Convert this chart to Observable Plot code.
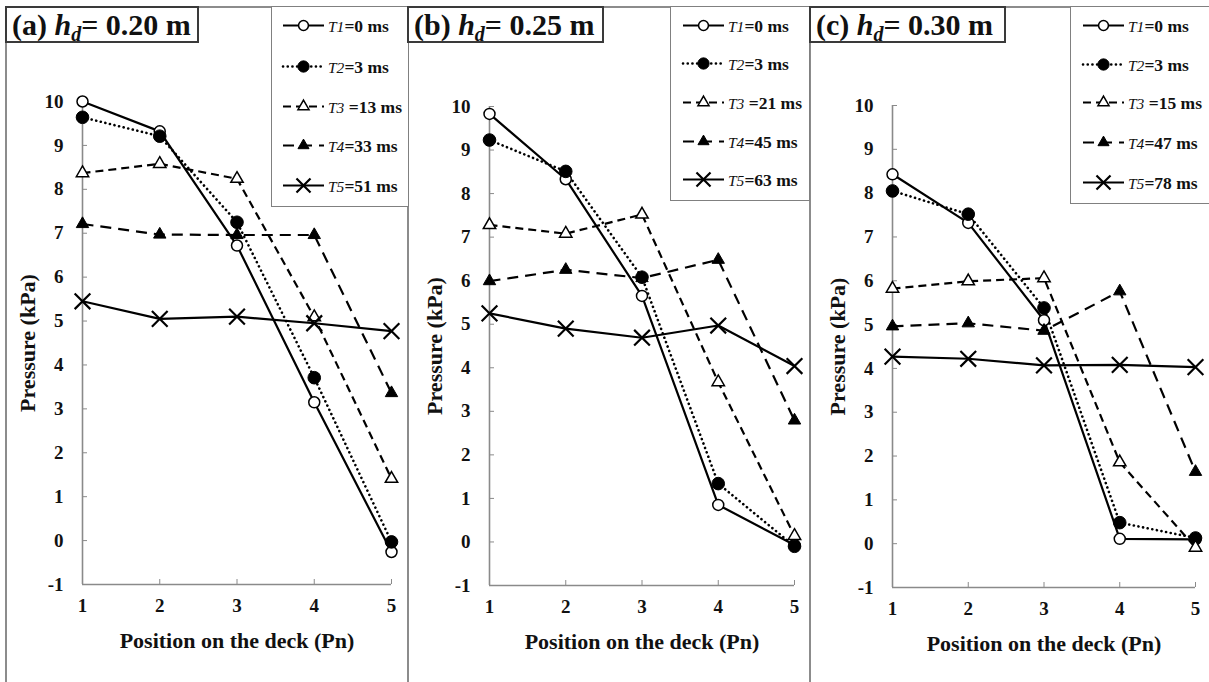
<!DOCTYPE html>
<html><head><meta charset="utf-8">
<script src="https://cdn.jsdelivr.net/npm/d3@7"></script>
<script src="https://cdn.jsdelivr.net/npm/@observablehq/plot@0.6"></script>
<style>
body{margin:0;background:#fff;}
#fig{position:relative;width:1209px;height:682px;overflow:hidden;background:#fff;font-family:"Liberation Serif",Tinos,"Times New Roman",Times,"DejaVu Serif",serif;}
#fig svg, #fig text{font-family:"Liberation Serif",Tinos,"Times New Roman",Times,"DejaVu Serif",serif;}
.vline{position:absolute;width:2px;background:#8c8c8c;top:6px;bottom:0;}
.hline{position:absolute;height:2px;background:#8c8c8c;top:6px;left:5px;right:0;}
.chart{position:absolute;top:9px;}
.title{position:absolute;top:6px;height:37px;border:2px solid #3a3a3a;background:#fff;font-weight:bold;font-size:30px;line-height:33px;padding-left:5px;box-sizing:border-box;white-space:nowrap;color:#111}
.title sub{font-size:20px;vertical-align:-6px;line-height:0}
.legend{position:absolute;top:6px;border:1.5px solid #808080;background:#fff;box-sizing:border-box}
.legend svg{position:absolute;left:0;top:0}
g[aria-label="y-axis label"] text, g[aria-label="x-axis label"] text{font-size:22px;}
</style></head>
<body><div id="fig"></div>
<script>
// ---------- data ----------
const positions = [1, 2, 3, 4, 5];
const yTicks = [-1, 0, 1, 2, 3, 4, 5, 6, 7, 8, 9, 10];
const seriesLabels = ["T1", "T2", "T3", "T4", "T5"];
const panelTitles = ["(a) ", "(b) ", "(c) "];
const panelDepths = ["0.20", "0.25", "0.30"];
const timesA = [0, 3, 13, 33, 51];
const timesB = [0, 3, 21, 45, 63];
const timesC = [0, 3, 15, 47, 78];

// panel (a) h_d = 0.20 m
const a_T1 = [10.0, 9.32, 6.72, 3.15, -0.26];
const a_T2 = [9.64, 9.21, 7.25, 3.71, -0.03];
const a_T3 = [8.37, 8.58, 8.24, 5.09, 1.41];
const a_T4 = [7.21, 6.97, 6.96, 6.96, 3.36];
const a_T5 = [5.45, 5.05, 5.10, 4.95, 4.77];
// panel (b) h_d = 0.25 m
const b_T1 = [9.83, 8.33, 5.65, 0.85, -0.07];
const b_T2 = [9.23, 8.51, 6.08, 1.34, -0.10];
const b_T3 = [7.28, 7.08, 7.52, 3.67, 0.14];
const b_T4 = [5.99, 6.25, 6.06, 6.48, 2.79];
const b_T5 = [5.25, 4.90, 4.69, 4.97, 4.04];
// panel (c) h_d = 0.30 m
const c_T1 = [8.43, 7.32, 5.10, 0.11, 0.10];
const c_T2 = [8.05, 7.52, 5.38, 0.48, 0.13];
const c_T3 = [5.82, 5.99, 6.06, 1.86, -0.09];
const c_T4 = [4.96, 5.03, 4.86, 5.76, 1.64];
const c_T5 = [4.27, 4.22, 4.07, 4.08, 4.03];

// ---------- styles ----------
const FONT = '"Liberation Serif",Tinos,"Times New Roman",Times,"DejaVu Serif",serif';
const styles = [
  {dash: null, cap: "butt", w: 2.2, symbol: "circle", r: 5.5, fill: "white", sw: 1.5},
  {dash: "0.1,4.6", cap: "round", w: 2.6, symbol: "circle", r: 6.3, fill: "black", sw: 1},
  {dash: "8,5", cap: "butt", w: 2.2, symbol: "triangle", r: 4.6, fill: "white", sw: 1.5},
  {dash: "11,7", cap: "butt", w: 2.2, symbol: "triangle", r: 4.6, fill: "black", sw: 1},
  {dash: null, cap: "butt", w: 2.2, symbol: "times", r: 7.2, fill: "none", sw: 2.2}
];

const panels = [
  {series: [a_T1, a_T2, a_T3, a_T4, a_T5], times: timesA, left: 7, width: 400, ml: 75, mr: 16, mt: 92, mb: 98,
   title: {left: 5, width: 194}, legend: {left: 271, width: 138, height: 201, ys: [20, 61, 101, 140, 180], lx: 11}},
  {series: [b_T1, b_T2, b_T3, b_T4, b_T5], times: timesB, left: 409, width: 398, ml: 80, mr: 13, mt: 97, mb: 97,
   title: {left: 407, width: 197}, legend: {left: 670, width: 140, height: 195, ys: [20, 58, 97, 136, 174], lx: 12}},
  {series: [c_T1, c_T2, c_T3, c_T4, c_T5], times: timesC, left: 811, width: 398, ml: 81, mr: 14, mt: 96, mb: 95,
   title: {left: 809, width: 197}, legend: {left: 1070, width: 142, height: 198, ys: [20, 59, 97, 137, 177], lx: 12}}
];

const fig = document.getElementById("fig");

function addDiv(cls, css) {
  const d = document.createElement("div");
  d.className = cls;
  Object.assign(d.style, css);
  fig.appendChild(d);
  return d;
}

addDiv("hline", {});
[5, 407, 809].forEach(x => addDiv("vline", {left: x + "px"}));

panels.forEach((p, pi) => {
  const rows = [];
  p.series.forEach((vals, si) => vals.forEach((v, j) => rows.push({s: si, x: positions[j], y: v})));
  const marks = [
    Plot.ruleY([-1], {stroke: "#8a8a8a", strokeWidth: 1.6}),
    Plot.ruleX([1], {stroke: "#8a8a8a", strokeWidth: 1.6}),
    Plot.axisY({ticks: yTicks, tickSize: -5, tickPadding: 24, stroke: "#8a8a8a", fill: "#111",
      tickFormat: d => String(d), label: "Pressure (kPa)", labelAnchor: "center", labelOffset: 63, labelArrow: "none"}),
    Plot.axisX({ticks: positions, tickSize: -5, tickPadding: 19, stroke: "#8a8a8a", fill: "#111",
      tickFormat: d => String(d), label: "Position on the deck (Pn)", labelAnchor: "center", labelOffset: 63, labelArrow: "none"})
  ];
  styles.forEach((st, si) => {
    const d = rows.filter(r => r.s === si);
    marks.push(Plot.line(d, {x: "x", y: "y", stroke: "black", strokeWidth: st.w,
      strokeDasharray: st.dash || undefined, strokeLinecap: st.cap}));
  });
  styles.forEach((st, si) => {
    const d = rows.filter(r => r.s === si);
    marks.push(Plot.dot(d, {x: "x", y: "y", symbol: st.symbol, r: st.r, fill: st.fill, stroke: "black", strokeWidth: st.sw}));
  });
  const chart = Plot.plot({
    width: p.width, height: 673,
    marginLeft: p.ml, marginRight: p.mr, marginTop: p.mt, marginBottom: p.mb,
    x: {domain: [1, 5]}, y: {domain: [-1, 10]},
    style: {fontFamily: FONT, fontSize: "19px", fontWeight: "bold", color: "#111", background: "transparent", overflow: "visible"},
    marks
  });
  const holder = addDiv("chart", {left: p.left + "px"});
  holder.appendChild(chart);

  // title box
  const t = addDiv("title", {left: p.title.left + "px", width: p.title.width + "px"});
  t.innerHTML = panelTitles[pi] + "<i>h</i><sub><i>d</i></sub>= " + panelDepths[pi] + " m";

  // legend box
  const lg = p.legend;
  const ld = addDiv("legend", {left: lg.left + "px", width: lg.width + "px", height: lg.height + "px"});
  const svg = d3.select(ld).append("svg").attr("width", lg.width).attr("height", lg.height);
  styles.forEach((st, si) => {
    const y = lg.ys[si] - 1.5;
    svg.append("line").attr("x1", lg.lx).attr("x2", lg.lx + 41).attr("y1", y).attr("y2", y)
      .attr("stroke", "black").attr("stroke-width", st.w)
      .attr("stroke-dasharray", st.dash).attr("stroke-linecap", st.cap);
    const sym = {circle: d3.symbolCircle, triangle: d3.symbolTriangle, times: d3.symbolTimes}[st.symbol];
    svg.append("path").attr("d", d3.symbol(sym, Math.PI * st.r * st.r * 0.8)())
      .attr("transform", `translate(${lg.lx + 20.5},${y})`)
      .attr("fill", st.fill).attr("stroke", "black").attr("stroke-width", st.sw);
    const tx = svg.append("text").attr("x", lg.lx + 45).attr("y", y + 6)
      .attr("font-family", FONT).attr("fill", "#111");
    tx.append("tspan").attr("font-style", "italic").attr("font-size", 15.5).text(seriesLabels[si]);
    tx.append("tspan").attr("font-weight", "bold").attr("font-size", 17.5)
      .text((si === 2 ? " =" : "=") + p.times[si] + " ms");
  });
});
</script>
</body></html>
